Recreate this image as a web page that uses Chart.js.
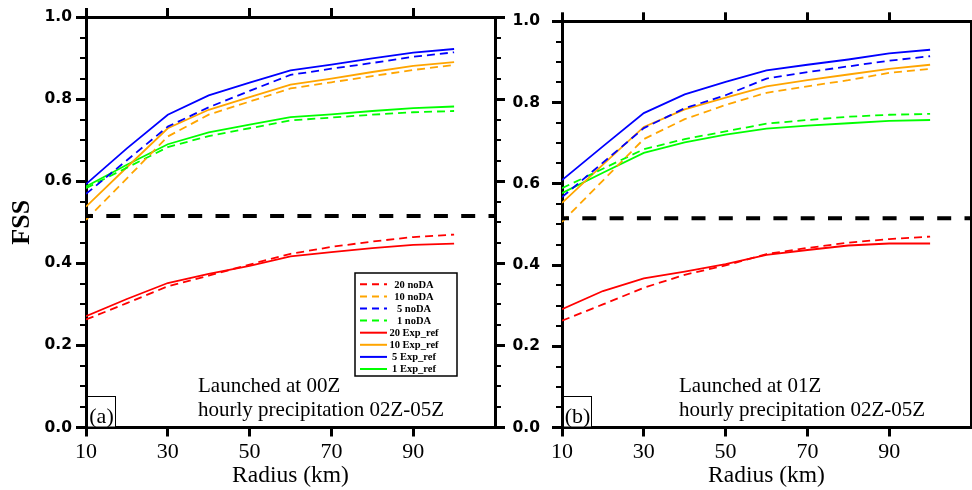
<!DOCTYPE html>
<html><head><meta charset="utf-8">
<script src="https://cdn.jsdelivr.net/npm/chart.js@4.4.1/dist/chart.umd.min.js"></script>
<style>
html,body{margin:0;padding:0;background:#fff;width:972px;height:490px;overflow:hidden;}
canvas{position:absolute;top:0;}
#ca{left:0px}
#cb{left:500px}
</style></head><body>
<canvas id="ca" width="520" height="490"></canvas>
<canvas id="cb" width="472" height="490"></canvas>
<script>
// ---------- data ----------
const radius = [10, 20, 30, 40, 50, 60, 70, 80, 90, 100];
const xRange = [10, 110];
const yRange = [0, 1];
const xTickValues = [10, 30, 50, 70, 90];
const yTickValues = [0, 0.2, 0.4, 0.6, 0.8, 1.0];
const yMinorTickValues = [0.05, 0.1, 0.15, 0.25, 0.3, 0.35, 0.45, 0.5, 0.55, 0.65, 0.7, 0.75, 0.85, 0.9, 0.95];
const seriesLabels = ['20 noDA', '10 noDA', '5 noDA', '1 noDA', '20 Exp_ref', '10 Exp_ref', '5 Exp_ref', '1 Exp_ref'];
const seriesColors = ['#ff0000', '#ffa500', '#0000ff', '#00ff00', '#ff0000', '#ffa500', '#0000ff', '#00ff00'];
const threshold = 0.515;

// panel (a) launched at 00Z
const a_noDA20 = [0.263, 0.303, 0.344, 0.370, 0.397, 0.423, 0.440, 0.453, 0.464, 0.470];
const a_noDA10 = [0.506, 0.607, 0.709, 0.762, 0.794, 0.826, 0.841, 0.856, 0.871, 0.883];
const a_noDA5  = [0.569, 0.651, 0.733, 0.780, 0.820, 0.859, 0.874, 0.888, 0.903, 0.914];
const a_noDA1  = [0.583, 0.633, 0.683, 0.710, 0.729, 0.748, 0.755, 0.762, 0.768, 0.771];
const a_exp20  = [0.271, 0.313, 0.352, 0.374, 0.394, 0.417, 0.427, 0.437, 0.445, 0.448];
const a_exp10  = [0.538, 0.634, 0.729, 0.774, 0.805, 0.835, 0.850, 0.866, 0.881, 0.890];
const a_exp5   = [0.593, 0.680, 0.762, 0.809, 0.840, 0.870, 0.884, 0.899, 0.913, 0.922];
const a_exp1   = [0.587, 0.640, 0.690, 0.719, 0.738, 0.756, 0.763, 0.771, 0.778, 0.782];

// panel (b) launched at 01Z
const b_noDA20 = [0.263, 0.303, 0.344, 0.376, 0.399, 0.427, 0.442, 0.455, 0.464, 0.470];
const b_noDA10 = [0.506, 0.608, 0.710, 0.759, 0.794, 0.824, 0.840, 0.855, 0.873, 0.883];
const b_noDA5  = [0.567, 0.652, 0.737, 0.786, 0.818, 0.859, 0.875, 0.889, 0.903, 0.914];
const b_noDA1  = [0.589, 0.637, 0.685, 0.710, 0.729, 0.748, 0.757, 0.765, 0.770, 0.772];
const b_exp20  = [0.291, 0.336, 0.367, 0.384, 0.402, 0.425, 0.437, 0.448, 0.453, 0.453];
const b_exp10  = [0.553, 0.647, 0.740, 0.783, 0.812, 0.840, 0.855, 0.869, 0.883, 0.893];
const b_exp5   = [0.609, 0.692, 0.774, 0.820, 0.851, 0.879, 0.893, 0.906, 0.921, 0.930];
const b_exp1   = [0.577, 0.627, 0.676, 0.702, 0.721, 0.736, 0.743, 0.749, 0.755, 0.757];

const panelA = {label: '(a)', lines: ['Launched at 00Z', 'hourly precipitation 02Z-05Z'],
  series: [a_noDA20, a_noDA10, a_noDA5, a_noDA1, a_exp20, a_exp10, a_exp5, a_exp1]};
const panelB = {label: '(b)', lines: ['Launched at 01Z', 'hourly precipitation 02Z-05Z'],
  series: [b_noDA20, b_noDA10, b_noDA5, b_noDA1, b_exp20, b_exp10, b_exp5, b_exp1]};

// ---------- rendering ----------
const SERIF = "'Liberation Serif', 'Times New Roman', serif";
const SANS = "'DejaVu Sans', sans-serif";

const decor = {
  id: 'decor',
  afterDraw(chart) {
    const o = chart.options.plugins.decor;
    const ctx = chart.ctx, ca = chart.chartArea;
    const ys = chart.scales.y;
    ctx.save();
    ctx.setLineDash([]);
    ctx.globalAlpha = 1;
    // minor y ticks, outward on left and right borders
    ctx.fillStyle = '#000';
    yMinorTickValues.forEach(v => {
      const py = Math.round(ys.getPixelForValue(v));
      ctx.fillRect(ca.left - 6, py - 1, 6, 2);
      ctx.fillRect(ca.right, py - 1, 6, 2);
    });
    // panel text
    ctx.fillStyle = '#000';
    ctx.font = '21px ' + SERIF;
    ctx.textAlign = 'left';
    ctx.textBaseline = 'alphabetic';
    ctx.fillText(o.lines[0], ca.left + o.textDx, 391.5);
    ctx.fillText(o.lines[1], ca.left + o.textDx, 415.5);
    // panel label box
    ctx.lineWidth = 1;
    ctx.strokeStyle = '#000';
    ctx.fillStyle = '#fff';
    ctx.fillRect(ca.left + 1.5, 396, 28, ca.bottom - 397);
    ctx.strokeRect(ca.left + 1.5, 396.5, 28, ca.bottom - 396.5);
    ctx.fillStyle = '#000';
    ctx.textAlign = 'center';
    ctx.font = '22px ' + SERIF;
    ctx.fillText(o.label, ca.left + 15.5, 422.5);
    // legend
    if (o.legend) {
      const bx = 355, by = 273, bw = 102, bh = 103;
      ctx.fillStyle = '#fff';
      ctx.fillRect(bx, by, bw, bh);
      ctx.lineWidth = 1.5;
      ctx.strokeStyle = '#000';
      ctx.strokeRect(bx, by, bw, bh);
      const ds = chart.data.datasets.filter(d => d.isSeries);
      ctx.font = 'bold 10.5px ' + SERIF;
      ctx.textBaseline = 'middle';
      ctx.textAlign = 'center';
      ds.forEach((d, i) => {
        const y = 284.3 + i * 12.1;
        ctx.beginPath();
        ctx.setLineDash(d.borderDash && d.borderDash.length ? [7, 5] : []);
        ctx.lineWidth = 2;
        ctx.strokeStyle = d.borderColor;
        ctx.moveTo(360, y); ctx.lineTo(387, y);
        ctx.stroke();
        ctx.setLineDash([]);
        ctx.fillStyle = '#000';
        ctx.fillText(d.label, 414, y + 0.5);
      });
    }
    ctx.restore();
  }
};

function makePanel(id, panel, geo) {
  const datasets = [];
  datasets.push({
    label: 'threshold', isSeries: false,
    data: xRange.map(x => ({x: x, y: threshold})),
    borderColor: '#000', borderWidth: 4, borderDash: [14, 13.3], borderDashOffset: 7,
    pointRadius: 0
  });
  panel.series.forEach((arr, i) => {
    datasets.push({
      label: seriesLabels[i], isSeries: true,
      data: radius.map((x, k) => ({x: x, y: arr[k]})),
      borderColor: seriesColors[i], borderWidth: 1.8,
      borderDash: i < 4 ? [8, 5] : [],
      pointRadius: 0, tension: 0
    });
  });
  const tickGrid = (len, w) => ({drawOnChartArea: false, drawTicks: true, tickLength: len,
    color: '#000', lineWidth: w, tickWidth: w});
  const setX = s => { s.ticks = xTickValues.map(v => ({value: v})); };
  const setY = s => { s.ticks = yTickValues.map(v => ({value: v})); };
  const scales = {
    x: {type: 'linear', position: 'bottom', min: xRange[0], max: xRange[1],
      afterBuildTicks: setX,
      ticks: {color: '#000', font: {family: SERIF, size: 22}, padding: 3, maxRotation: 0,
        callback: v => String(v)},
      grid: tickGrid(9, 3), border: {display: true, color: '#000', width: 3},
      title: {display: true, text: 'Radius (km)', color: '#000',
        font: {family: SERIF, size: 23.5}, padding: {top: 0, bottom: 0}},
      afterFit: s => { s.height = 490 - geo.bottom; }},
    x2: {type: 'linear', position: 'top', min: xRange[0], max: xRange[1],
      afterBuildTicks: setX,
      ticks: {display: false}, grid: tickGrid(9, 3), border: {display: true, color: '#000', width: 3},
      afterFit: s => { s.height = geo.top; }},
    y: {type: 'linear', position: 'left', min: yRange[0], max: yRange[1],
      afterBuildTicks: setY,
      ticks: {color: '#000', font: {family: SANS, size: 15.5, weight: 'bold'}, padding: geo.labelPad,
        callback: v => v.toFixed(1)},
      grid: tickGrid(10, 3), border: {display: true, color: '#000', width: 3},
      title: {display: geo.showTitle, text: 'FSS', color: '#000',
        font: {family: SERIF, size: 26, weight: 'bold'}, padding: {top: 7, bottom: 0}},
      afterFit: s => { s.width = geo.left; }},
    y2: {type: 'linear', position: 'right', min: yRange[0], max: yRange[1],
      afterBuildTicks: setY,
      ticks: {display: false}, grid: tickGrid(10, 3), border: {display: true, color: '#000', width: 3},
      afterFit: s => { s.width = geo.width - geo.right; }}
  };
  return new Chart(document.getElementById(id), {
    type: 'line',
    data: {datasets: datasets},
    options: {
      responsive: false, animation: false, devicePixelRatio: 1,
      layout: {padding: 0},
      scales: scales,
      plugins: {legend: {display: false}, tooltip: {enabled: false},
        decor: {label: panel.label, lines: panel.lines, textDx: geo.textDx, legend: geo.legend}}
    },
    plugins: [decor]
  });
}

makePanel('ca', panelA, {width: 520, left: 86, right: 495, top: 17, bottom: 427.5,
  labelPad: 4, showTitle: true, textDx: 112, legend: true});
makePanel('cb', panelB, {width: 472, left: 62, right: 471, top: 17, bottom: 427.5,
  labelPad: 12, showTitle: false, textDx: 117, legend: false});
</script>
</body></html>
